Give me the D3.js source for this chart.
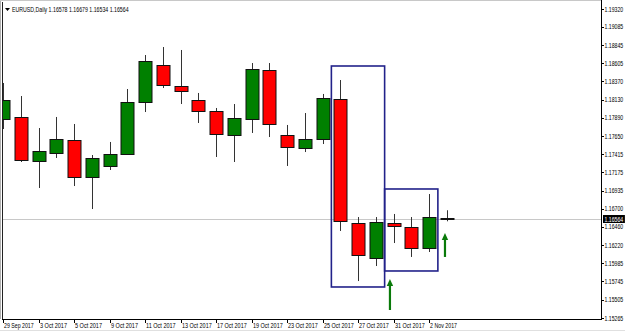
<!DOCTYPE html>
<html>
<head>
<meta charset="utf-8">
<script src="https://cdn.jsdelivr.net/npm/d3@7"></script>
<style>
  body { margin: 0; background: #fff; }
  svg { display: block; }
  text { font-family: "Liberation Sans", "DejaVu Sans", sans-serif; }
</style>
</head>
<body>
<div id="chart"></div>
<script>
// Data
// =================================
const dates = ["29 Sep 2017", "2 Oct 2017", "3 Oct 2017", "4 Oct 2017", "5 Oct 2017", "6 Oct 2017",
  "9 Oct 2017", "10 Oct 2017", "11 Oct 2017", "12 Oct 2017", "13 Oct 2017", "16 Oct 2017",
  "17 Oct 2017", "18 Oct 2017", "19 Oct 2017", "20 Oct 2017", "23 Oct 2017", "24 Oct 2017",
  "25 Oct 2017", "26 Oct 2017", "27 Oct 2017", "30 Oct 2017", "31 Oct 2017", "1 Nov 2017",
  "2 Nov 2017", "3 Nov 2017"];
const opens  = [1.17876, 1.17903, 1.17325, 1.17430, 1.17601, 1.17115, 1.17260, 1.17417, 1.18100, 1.18585,
  1.18310, 1.18126, 1.17981, 1.17666, 1.17876, 1.18519, 1.17666, 1.17496, 1.17614, 1.18139,
  1.16512, 1.16052, 1.16512, 1.16459, 1.16184, 1.16578];
const highs  = [1.18349, 1.18178, 1.17758, 1.17903, 1.17811, 1.17404, 1.17575, 1.18270, 1.18716, 1.18821,
  1.18782, 1.18218, 1.18021, 1.18073, 1.18611, 1.18611, 1.17798, 1.17955, 1.18205, 1.18388,
  1.16590, 1.16590, 1.16630, 1.16590, 1.16892, 1.16679];
const lows   = [1.17745, 1.17312, 1.16971, 1.17365, 1.16997, 1.16695, 1.17207, 1.17404, 1.17968, 1.18283,
  1.18073, 1.17824, 1.17378, 1.17312, 1.17693, 1.17640, 1.17260, 1.17443, 1.17548, 1.16407,
  1.15750, 1.15947, 1.16249, 1.16066, 1.16131, 1.16534];
const closes = [1.18126, 1.17338, 1.17457, 1.17614, 1.17115, 1.17365, 1.17417, 1.18100, 1.18638, 1.18323,
  1.18244, 1.17981, 1.17680, 1.17890, 1.18533, 1.17811, 1.17509, 1.17614, 1.18152, 1.16538,
  1.16092, 1.16525, 1.16472, 1.16184, 1.16590, 1.16564];

const priceTicks = [1.19320, 1.19085, 1.18845, 1.18605, 1.18370, 1.18130, 1.17890, 1.17650, 1.17415,
  1.17175, 1.16935, 1.16700, 1.16460, 1.16220, 1.15985, 1.15745, 1.15505, 1.15265];
const dateTicks = ["29 Sep 2017", "3 Oct 2017", "5 Oct 2017", "9 Oct 2017", "11 Oct 2017", "13 Oct 2017",
  "17 Oct 2017", "19 Oct 2017", "23 Oct 2017", "25 Oct 2017", "27 Oct 2017", "31 Oct 2017", "2 Nov 2017"];

const symbol = "EURUSD,Daily";
const lastPrice = 1.16564;

// drawn objects: [from bar, to bar, top price, bottom price]
const boxes = [[18.5, 21.5, 1.18572, 1.15672], [21.5, 24.5, 1.16958, 1.15882]];
// arrows: [bar, tip price, tail price]
const arrows = [[21.8, 1.15777, 1.15370], [24.9, 1.16381, 1.16066]];

// Set up chart
// =================================
const svgWidth = 625;
const svgHeight = 332;
const plot = { left: 2, right: 601, top: 2, bottom: 319 };
const charW = 2.7; // narrow terminal font, px per character
const squeeze = 0.8; // horizontal squeeze for the price scale labels

const svg = d3.select("#chart")
  .append("svg")
  .attr("width", svgWidth)
  .attr("height", svgHeight);

const bars = dates.map((d, i) => ({
  date: d, i: i, o: opens[i], h: highs[i], l: lows[i], c: closes[i]
}));

const x = d3.scaleLinear().domain([0, 24]).range([3, 429]);
const y = d3.scaleLinear().domain([1.15265, 1.19320]).range([318, 9]);
const bodyW = 13;

svg.append("clipPath").attr("id", "plotclip")
  .append("rect")
  .attr("x", plot.left + 1).attr("y", plot.top)
  .attr("width", plot.right - plot.left - 1).attr("height", plot.bottom - plot.top);

const chartGroup = svg.append("g").attr("clip-path", "url(#plotclip)");

// current price line
chartGroup.append("line")
  .attr("x1", plot.left).attr("x2", plot.right)
  .attr("y1", Math.round(y(lastPrice)) + 0.5).attr("y2", Math.round(y(lastPrice)) + 0.5)
  .attr("stroke", "#c8c8c8");

// candles
const candle = chartGroup.selectAll("g.candle")
  .data(bars)
  .enter()
  .append("g")
  .attr("class", "candle");

candle.append("line")
  .attr("x1", d => Math.round(x(d.i)) + 0.5)
  .attr("x2", d => Math.round(x(d.i)) + 0.5)
  .attr("y1", d => y(d.h))
  .attr("y2", d => y(d.l))
  .attr("stroke", "#333");

candle.append("rect")
  .attr("x", d => Math.round(x(d.i)) - bodyW / 2 + 0.5)
  .attr("y", d => Math.round(y(Math.max(d.o, d.c))) + 0.5)
  .attr("width", bodyW)
  .attr("height", d => Math.max(1, Math.round(y(Math.min(d.o, d.c)) - y(Math.max(d.o, d.c)))))
  .attr("fill", d => d.c >= d.o ? "#008000" : "#ff0000")
  .attr("stroke", "#111");

// rectangles
chartGroup.selectAll("rect.box")
  .data(boxes)
  .enter()
  .append("rect")
  .attr("class", "box")
  .attr("x", d => x(d[0]))
  .attr("y", d => y(d[2]))
  .attr("width", d => x(d[1]) - x(d[0]))
  .attr("height", d => y(d[3]) - y(d[2]))
  .attr("fill", "none")
  .attr("stroke", "#22228a")
  .attr("stroke-width", 1.6);

// arrows
const arrowG = chartGroup.selectAll("g.arrow")
  .data(arrows)
  .enter()
  .append("g")
  .attr("class", "arrow");

arrowG.append("line")
  .attr("x1", d => x(d[0])).attr("x2", d => x(d[0]))
  .attr("y1", d => y(d[1]) + 4).attr("y2", d => y(d[2]))
  .attr("stroke", "#0a7a0a")
  .attr("stroke-width", 2.2);

arrowG.append("path")
  .attr("d", d => {
    const ax = x(d[0]), ay = y(d[1]);
    return `M${ax},${ay} L${ax + 3.2},${ay + 7} L${ax - 3.2},${ay + 7} Z`;
  })
  .attr("fill", "#0a7a0a");

// Frame and axes
// =================================
svg.append("line")
  .attr("x1", 0.5).attr("x2", 0.5).attr("y1", 0).attr("y2", plot.bottom)
  .attr("stroke", "#b0b0b0");
svg.append("line")
  .attr("x1", plot.left + 0.5).attr("x2", plot.left + 0.5).attr("y1", plot.top).attr("y2", plot.bottom)
  .attr("stroke", "#222");
svg.append("line")
  .attr("x1", 0).attr("x2", plot.right).attr("y1", 0.5).attr("y2", 0.5)
  .attr("stroke", "#c8c8c8");
svg.append("line")
  .attr("x1", plot.left).attr("x2", plot.right + 1).attr("y1", plot.bottom + 0.5).attr("y2", plot.bottom + 0.5)
  .attr("stroke", "#000");
svg.append("line")
  .attr("x1", plot.right + 0.5).attr("x2", plot.right + 0.5).attr("y1", 0).attr("y2", plot.bottom + 1)
  .attr("stroke", "#000");

// price axis
const rightAxis = svg.append("g");
rightAxis.selectAll("line")
  .data(priceTicks)
  .enter()
  .append("line")
  .attr("x1", plot.right).attr("x2", plot.right + 3)
  .attr("y1", d => Math.round(y(d)) + 0.5).attr("y2", d => Math.round(y(d)) + 0.5)
  .attr("stroke", "#000");
rightAxis.selectAll("text")
  .data(priceTicks)
  .enter()
  .append("text")
  .attr("transform", d => `translate(${plot.right + 3.5},${y(d) + 2.5}) scale(${squeeze},1)`)
  .attr("font-size", "6.5px")
  .attr("fill", "#000")
  .text(d => d.toFixed(5));

// current price tag
svg.append("rect")
  .attr("x", plot.right + 2).attr("y", y(lastPrice) - 4)
  .attr("width", 7 * charW + 3).attr("height", 8)
  .attr("fill", "#000");
svg.append("text")
  .attr("transform", `translate(${plot.right + 3.5},${y(lastPrice) + 2.5}) scale(${squeeze},1)`)
  .attr("font-size", "6.5px")
  .attr("fill", "#fff")
  .text(lastPrice.toFixed(5));

// time axis
const bottomAxis = svg.append("g");
const tickBars = bars.filter(d => dateTicks.includes(d.date));
bottomAxis.selectAll("line")
  .data(tickBars)
  .enter()
  .append("line")
  .attr("x1", d => Math.round(x(d.i)) + 0.5).attr("x2", d => Math.round(x(d.i)) + 0.5)
  .attr("y1", plot.bottom).attr("y2", plot.bottom + 4)
  .attr("stroke", "#000");
bottomAxis.selectAll("text")
  .data(tickBars)
  .enter()
  .append("text")
  .attr("x", d => Math.round(x(d.i)) + 1)
  .attr("y", plot.bottom + 9)
  .attr("font-size", "6.5px")
  .attr("textLength", d => d.date.length * charW)
  .attr("lengthAdjust", "spacingAndGlyphs")
  .attr("fill", "#000")
  .text(d => d.date);

// header
const header = `${symbol} ${opens[25].toFixed(5)} ${highs[25].toFixed(5)} ${lows[25].toFixed(5)} ${closes[25].toFixed(5)}`;
svg.append("path")
  .attr("d", "M5,8 L10,8 L7.5,11 Z")
  .attr("fill", "#000");
svg.append("text")
  .attr("x", 12).attr("y", 11.5)
  .attr("font-size", "6.5px")
  .attr("textLength", header.length * 2.65)
  .attr("lengthAdjust", "spacingAndGlyphs")
  .attr("fill", "#000")
  .text(header);

// window bottom edge
svg.append("line")
  .attr("x1", 0).attr("x2", svgWidth).attr("y1", svgHeight - 1.5).attr("y2", svgHeight - 1.5)
  .attr("stroke", "#e0e0e0");
</script>
</body>
</html>
